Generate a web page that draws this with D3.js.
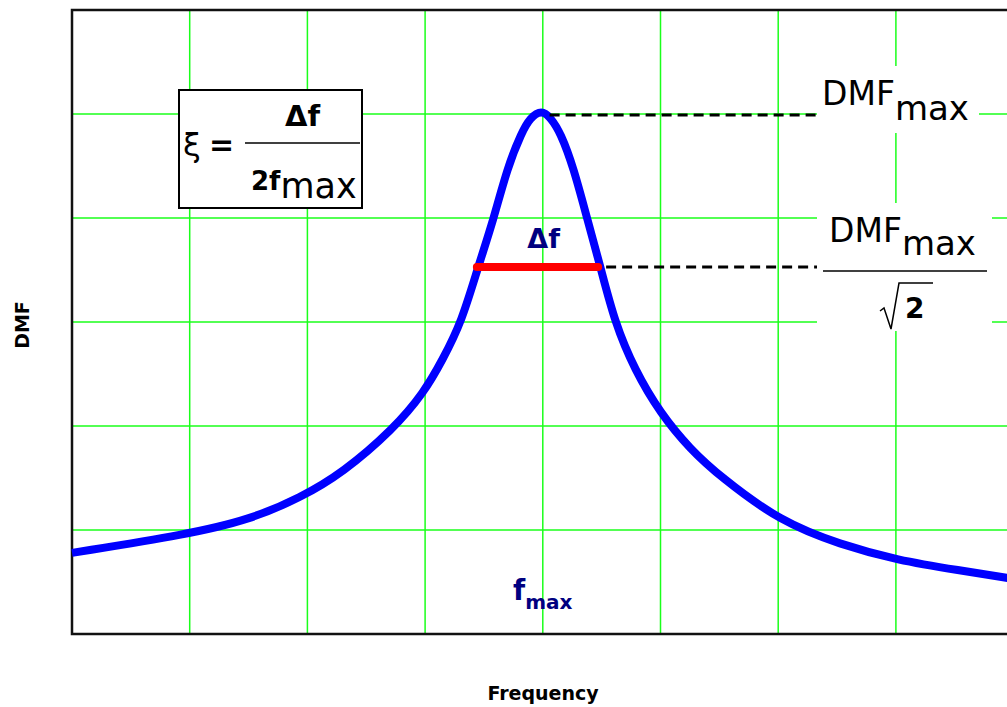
<!DOCTYPE html>
<html>
<head>
<meta charset="utf-8">
<script src="https://cdn.jsdelivr.net/npm/d3@7"></script>
<style>
  body { margin: 0; background: #fff; }
  text { font-family: "DejaVu Sans", Verdana, sans-serif; }
  .axis-label { font-family: "Comic Sans MS", "DejaVu Sans", sans-serif; font-weight: bold; }
</style>
</head>
<body>
<div id="chart"></div>
<script>
'use strict';

// resonance curve (frequency and DMF in grid units)
var freq = [0, 0.99, 1.51, 1.94, 2.30, 2.73, 2.99, 3.15, 3.31, 3.45, 3.58, 3.70, 3.82, 3.89, 3.99,
            4.07, 4.15, 4.26, 4.38, 4.49, 4.61, 4.78, 5.00, 5.25, 5.51, 6.02, 6.53, 7.01, 7.55, 7.94, 8.00];
var dmf  = [0.78, 0.96, 1.10, 1.31, 1.55, 1.97, 2.32, 2.64, 3.00, 3.53, 3.98, 4.49, 4.82, 4.96, 5.04,
            4.96, 4.82, 4.49, 3.98, 3.53, 3.00, 2.54, 2.12, 1.78, 1.51, 1.08, 0.86, 0.71, 0.61, 0.54, 0.53];

var gridX = [1, 2, 3, 4, 5, 6, 7];
var gridY = [1, 2, 3, 4, 5];

var peak      = [3.99, 5.02];   // f_max, DMF_max
var halfPower = 3.53;           // DMF_max / sqrt(2)
var band      = [3.44, 4.47];   // delta f

var width = 1007, height = 707,
    margin = {top: 10, left: 72, bottom: 73};

var svg = d3.select("#chart").append("svg")
    .attr("width", width).attr("height", height);

var x = d3.scaleLinear().domain([0, 8]).range([margin.left, margin.left + 8 * 117.7]),
    y = d3.scaleLinear().domain([0, 6]).range([height - margin.bottom, margin.top]);

// grid
svg.append("g").selectAll("line").data(gridX).enter().append("line")
    .attr("x1", x).attr("x2", x)
    .attr("y1", y(0)).attr("y2", y(6))
    .attr("stroke", "#1aff1a").attr("stroke-width", 1.5);
svg.append("g").selectAll("line").data(gridY).enter().append("line")
    .attr("x1", x(0)).attr("x2", width)
    .attr("y1", y).attr("y2", y)
    .attr("stroke", "#1aff1a").attr("stroke-width", 1.5);

// frame: left, top, bottom (right side runs off the page)
svg.append("path")
    .attr("d", "M" + width + "," + y(6) + "H" + x(0) + "V" + y(0) + "H" + width)
    .attr("fill", "none").attr("stroke", "#111").attr("stroke-width", 2.5);

// curve - basis spline smooths out the reading noise
var line = d3.line()
    .x(function(d, i){ return x(freq[i]); })
    .y(function(d){ return y(d); })
    .curve(d3.curveBasis);

svg.append("path")
    .attr("d", line(dmf))
    .attr("fill", "none").attr("stroke", "#0000ff").attr("stroke-width", 8);

// dashed reference lines
svg.append("line")
    .attr("x1", x(peak[0]) + 8).attr("x2", 817)
    .attr("y1", y(peak[1]) + 3).attr("y2", y(peak[1]) + 3)
    .attr("stroke", "#000").attr("stroke-width", 3).attr("stroke-dasharray", "10,6");
svg.append("line")
    .attr("x1", x(band[1]) + 8).attr("x2", 817)
    .attr("y1", y(halfPower)).attr("y2", y(halfPower))
    .attr("stroke", "#000").attr("stroke-width", 3).attr("stroke-dasharray", "10,6");

// delta f bar
svg.append("line")
    .attr("x1", x(band[0])).attr("x2", x(band[1]))
    .attr("y1", y(halfPower)).attr("y2", y(halfPower))
    .attr("stroke", "#ff0000").attr("stroke-width", 8).attr("stroke-linecap", "round");

svg.append("text")
    .attr("x", x(peak[0]) + 2).attr("y", 248)
    .attr("text-anchor", "middle")
    .attr("font-size", 27).attr("font-weight", "bold").attr("fill", "#000080")
    .text("Δf");

// f_max label
var fm = svg.append("text")
    .attr("x", 513).attr("y", 600)
    .attr("font-weight", "bold").attr("fill", "#000080");
fm.append("tspan").attr("font-size", 28).text("f");
fm.append("tspan").attr("font-size", 20).attr("dy", 9).text("max");

// DMF_max label
svg.append("rect").attr("x", 817).attr("y", 66).attr("width", 162).attr("height", 67).attr("fill", "#fff");
var t1 = svg.append("text").attr("x", 822).attr("y", 105);
t1.append("tspan").attr("font-size", 33).text("DMF");
t1.append("tspan").attr("font-size", 34).attr("dy", 15).text("max");

// DMF_max / sqrt 2 label
svg.append("rect").attr("x", 817).attr("y", 203).attr("width", 175).attr("height", 128).attr("fill", "#fff");
var t2 = svg.append("text").attr("x", 829).attr("y", 242);
t2.append("tspan").attr("font-size", 33).text("DMF");
t2.append("tspan").attr("font-size", 34).attr("dy", 13).text("max");
svg.append("line").attr("x1", 823).attr("x2", 987).attr("y1", 271).attr("y2", 271)
    .attr("stroke", "#000").attr("stroke-width", 1.5);
svg.append("path")
    .attr("d", "M880,311L884,308L891,329L899,283H933")
    .attr("fill", "none").attr("stroke", "#000").attr("stroke-width", 1.5);
svg.append("text").attr("x", 905).attr("y", 318).attr("font-size", 28).attr("font-weight", "bold").text("2");

// damping ratio box
svg.append("rect").attr("x", 179).attr("y", 90).attr("width", 183).attr("height", 118)
    .attr("fill", "#fff").attr("stroke", "#000").attr("stroke-width", 2);
svg.append("text").attr("x", 183).attr("y", 156).attr("font-size", 32).text("ξ");
svg.append("text").attr("x", 209).attr("y", 155).attr("font-size", 30).attr("font-weight", "bold").text("=");
svg.append("line").attr("x1", 245).attr("x2", 360).attr("y1", 143).attr("y2", 143)
    .attr("stroke", "#000").attr("stroke-width", 1.5);
svg.append("text").attr("x", 285).attr("y", 126).attr("font-size", 29).attr("font-weight", "bold").text("Δf");
var t3 = svg.append("text").attr("x", 251).attr("y", 190);
t3.append("tspan").attr("font-size", 26).attr("font-weight", "bold").text("2f");
t3.append("tspan").attr("font-size", 35).attr("dy", 8).text("max");

// axis titles
svg.append("text").attr("class", "axis-label")
    .attr("x", 543).attr("y", 700).attr("text-anchor", "middle")
    .attr("font-size", 19).text("Frequency");
svg.append("text").attr("class", "axis-label")
    .attr("transform", "translate(29,325) rotate(-90)").attr("text-anchor", "middle")
    .attr("font-size", 19).text("DMF");
</script>
</body>
</html>
